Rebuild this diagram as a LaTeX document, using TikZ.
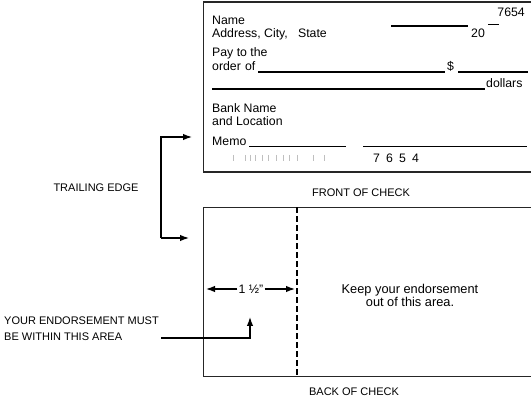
\documentclass[tikz,border=0pt]{standalone}
\usepackage{fontspec}
\setmainfont{Liberation Sans}
\usetikzlibrary{arrows.meta}
\tikzset{
  chk/.style={line width=1.6pt, draw=black!85},
  fline/.style={line width=1.1pt},
  ctext/.style={anchor=base west, inner sep=0pt, font=\fontsize{12.3}{14}\selectfont},
  lbl/.style={inner sep=0pt, font=\fontsize{11}{13}\selectfont},
  arr/.style={line width=1.2pt, -{Latex[length=9pt,width=6.5pt]}},
  tick/.style={line width=0.5pt, draw=black!25}
}
\begin{document}
\begin{tikzpicture}[x=1pt,y=-1pt]
\useasboundingbox (0,0) rectangle (531,398);
% front of check
\draw[chk] (535,2) -- (203.5,2) -- (203.5,172) -- (535,172);
\node[ctext] (name) at (212,25) {Name};
\node[ctext] (addr) at (212,37.5) {Address, City,\ \ \ State};
\node[ctext, anchor=base east] (num) at (525,17) {7654};
\node[ctext] (twenty) at (471,37.5) {20};
\draw[fline] (391,26) -- (468,26);
\draw[fline] (488,24.5) -- (499,24.5);
\node[ctext] (pay) at (212,56.5) {Pay to the};
\node[ctext] (order) at (212,71) {order\,\,of};
\draw[fline] (258,72) -- (445,72);
\node[ctext] (dollar) at (447,71) {\$};
\draw[fline] (458,72) -- (528,72);
\draw[fline] (212,89) -- (485,89);
\node[ctext] (dollars) at (486,88) {dollars};
\node[ctext] (bank) at (212,113) {Bank Name};
\node[ctext] (loc) at (212,125.5) {and Location};
\node[ctext] (memo) at (212,146) {Memo};
\draw[fline] (249,146.5) -- (346,146.5);
\draw[fline] (363,146.5) -- (527,146.5);
\foreach \x in {233,245,250,255,262,268,276,283,289,297,313,324}
  \draw[tick] (\x,155) -- (\x,161);
\node[ctext] (micr) at (373,163) {7\,\,\,6\,\,\,5\,\,\,4};
\node[lbl] (front) at (361,193) {FRONT OF CHECK};
% back of check
\draw[chk] (535,207.5) -- (203.5,207.5) -- (203.5,376.5) -- (535,376.5);
\draw[line width=1.3pt, dash pattern=on 5.5pt off 3.5pt] (297,207.5) -- (297,376.5);
\node[lbl] (back) at (354,392) {BACK OF CHECK};
\node[inner sep=0pt, align=center, font=\fontsize{12.8}{13}\selectfont] (keep) at (410,295) {Keep your endorsement\\out of this area.};
% 1 1/2 dimension
\node[inner sep=1pt, font=\fontsize{12.3}{14}\selectfont] (dim) at (251,289) {1 ½"};
\coordinate (dl) at (206,289);
\coordinate (dr) at (295,289);
\draw[arr] (dim.west) -- (dl);
\draw[arr] (dim.east) -- (dr);
% trailing edge
\node[lbl] (trail) at (96,188) {TRAILING EDGE};
\coordinate (tt) at (161,137);
\coordinate (tb) at (161,238);
\coordinate (ttip) at (192,137);
\coordinate (btip) at (189,238);
\draw[arr] (tb) -- (btip);
\draw[arr] (tb) -- (tt) -- (ttip);
% endorsement label
\node[lbl, anchor=west, align=left, font=\fontsize{11}{16}\selectfont] (endo) at (4,329) {YOUR ENDORSEMENT MUST\\BE WITHIN THIS AREA};
\coordinate (es) at (161,338);
\coordinate (ec) at (250,338);
\coordinate (etip) at (250,317);
\draw[arr] (es) -- (ec) -- (etip);
\end{tikzpicture}
\end{document}
